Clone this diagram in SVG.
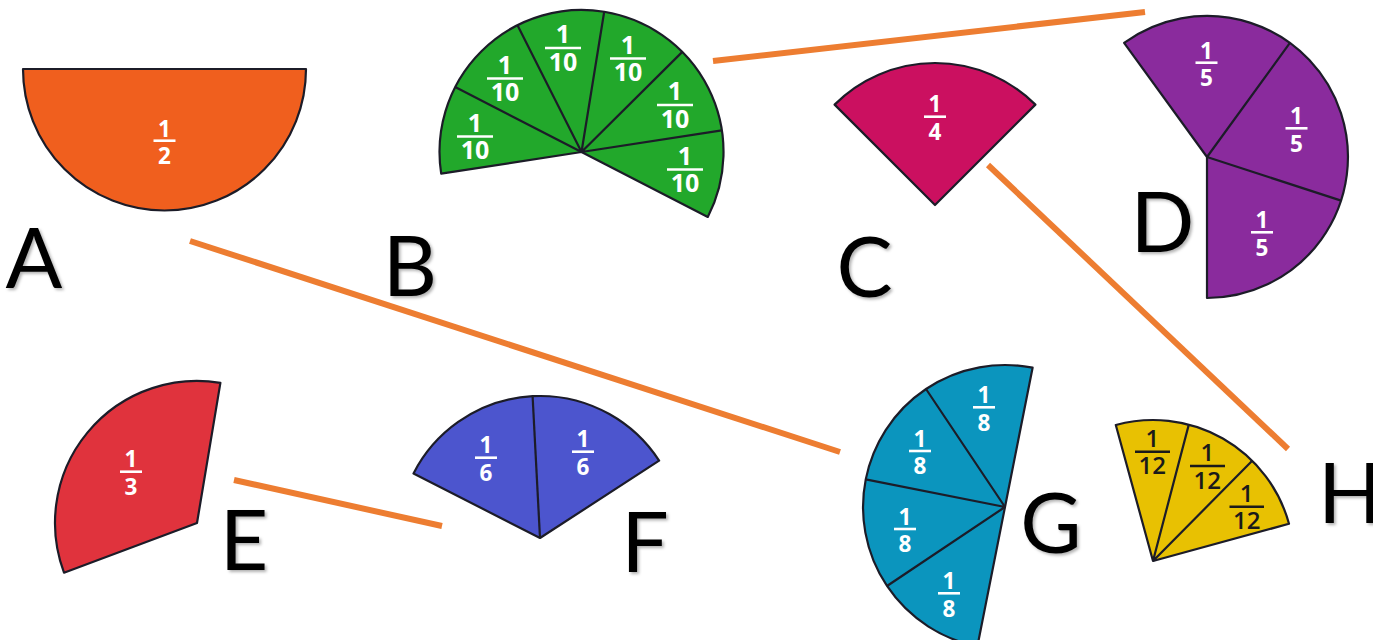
<svg xmlns="http://www.w3.org/2000/svg" width="1373" height="640" viewBox="0 0 1373 640">
<style>
.sec{stroke:#1c1c28;stroke-width:2.2;stroke-linejoin:round}
.div{stroke:#1c1c28;stroke-width:2.2;fill:none}
.fw{font-family:"Open Sans","DejaVu Sans",sans-serif;font-weight:700;font-size:22.5px;fill:#ffffff;text-anchor:middle}
.fb{font-family:"Open Sans","DejaVu Sans",sans-serif;font-weight:700;font-size:25px;fill:#ffffff;text-anchor:middle}
.fk{font-family:"Open Sans","DejaVu Sans",sans-serif;font-weight:600;font-size:24px;fill:#1a1a1a;text-anchor:middle}
.barw{stroke:#ffffff;stroke-width:2.6}
.bark{stroke:#1a1a1a;stroke-width:2.6}
.lbl{font-family:Lato,"Liberation Sans",sans-serif;font-size:84px;fill:#000000;text-anchor:middle;filter:url(#sh)}
.con{stroke:#ED7D31;stroke-width:6;fill:none}
</style>
<defs>
<filter id="sh" x="-20%" y="-20%" width="150%" height="150%">
<feDropShadow dx="2" dy="2" stdDeviation="1.5" flood-color="#000" flood-opacity="0.3"/>
</filter>
</defs>

<g id="connectors">
<line class="con" x1="713" y1="61" x2="1145" y2="12"/>
<line class="con" x1="190" y1="241" x2="840" y2="452"/>
<line class="con" x1="988" y1="165" x2="1288" y2="449"/>
<line class="con" x1="234" y1="480" x2="442" y2="526"/>
</g>

<g id="nodeA">
<path class="sec" fill="#F05F1E" d="M23,69 L306,69 A141.5,141.5 0 0 1 23,69 Z"/>
<text class="fw" x="164.5" y="136.5">1</text>
<line class="barw" x1="153.5" y1="140.7" x2="175.5" y2="140.7"/>
<text class="fw" x="164.5" y="164">2</text>
<text class="lbl" x="34" y="288">A</text>
</g>

<g id="nodeB">
<path class="sec" fill="#22A82B" d="M581.5,152 L441.2,173.7 A142,142 0 1 1 707.8,216.9 Z"/>
<path class="div" d="M581.5,152 L455.2,87.1 M581.5,152 L517.5,25.3 M581.5,152 L604.2,11.8 M581.5,152 L682.3,51.9 M581.5,152 L721.8,130.3"/>
<g>
<text class="fb" x="475" y="131.5">1</text><line class="barw" x1="457" y1="136.5" x2="493" y2="136.5"/><text class="fb" x="475" y="159">10</text>
<text class="fb" x="505" y="73.5">1</text><line class="barw" x1="487" y1="78.5" x2="523" y2="78.5"/><text class="fb" x="505" y="101">10</text>
<text class="fb" x="563" y="43">1</text><line class="barw" x1="545" y1="48" x2="581" y2="48"/><text class="fb" x="563" y="70.5">10</text>
<text class="fb" x="628" y="53.5">1</text><line class="barw" x1="610" y1="58.5" x2="646" y2="58.5"/><text class="fb" x="628" y="81">10</text>
<text class="fb" x="675" y="100">1</text><line class="barw" x1="657" y1="105" x2="693" y2="105"/><text class="fb" x="675" y="127.5">10</text>
<text class="fb" x="685" y="164.5">1</text><line class="barw" x1="667" y1="169.5" x2="703" y2="169.5"/><text class="fb" x="685" y="192">10</text>
</g>
<text class="lbl" x="410" y="296">B</text>
</g>

<g id="nodeC">
<path class="sec" fill="#CB1060" d="M935,205 L834.6,104.6 A142,142 0 0 1 1035.4,104.6 Z"/>
<text class="fw" x="935" y="112">1</text>
<line class="barw" x1="924" y1="116.7" x2="946" y2="116.7"/>
<text class="fw" x="935" y="140">4</text>
<text class="lbl" x="864.5" y="297">C</text>
</g>

<g id="nodeD">
<path class="sec" fill="#8A2B9D" d="M1207,157 L1124.1,42.9 A141,141 0 1 1 1207,298 Z"/>
<path class="div" d="M1207,157 L1289.9,42.9 M1207,157 L1341.1,200.6"/>
<text class="fw" x="1206.5" y="58.5">1</text><line class="barw" x1="1195.5" y1="62.7" x2="1217.5" y2="62.7"/><text class="fw" x="1206.5" y="86">5</text>
<text class="fw" x="1296.5" y="124">1</text><line class="barw" x1="1285.5" y1="128.3" x2="1307.5" y2="128.3"/><text class="fw" x="1296.5" y="151.5">5</text>
<text class="fw" x="1262" y="228">1</text><line class="barw" x1="1251" y1="232.3" x2="1273" y2="232.3"/><text class="fw" x="1262" y="255.5">5</text>
<text class="lbl" x="1162.5" y="252">D</text>
</g>

<g id="nodeE">
<path class="sec" fill="#E0333D" d="M197,523 L64,572.7 A142,142 0 0 1 220.4,382.9 Z"/>
<text class="fw" x="131" y="467">1</text>
<line class="barw" x1="120" y1="471.7" x2="142" y2="471.7"/>
<text class="fw" x="131" y="495">3</text>
<text class="lbl" x="244" y="570">E</text>
</g>

<g id="nodeF">
<path class="sec" fill="#4C55CE" d="M540,538 L413.5,473.5 A142,142 0 0 1 659.1,460.7 Z"/>
<path class="div" d="M540,538 L532.6,396.2"/>
<text class="fw" x="486" y="453">1</text><line class="barw" x1="475" y1="457.7" x2="497" y2="457.7"/><text class="fw" x="486" y="481">6</text>
<text class="fw" x="583" y="447">1</text><line class="barw" x1="572" y1="451.7" x2="594" y2="451.7"/><text class="fw" x="583" y="475">6</text>
<text class="lbl" x="645" y="572">F</text>
</g>

<g id="nodeG">
<path class="sec" fill="#0B95BE" d="M1005,507 L977.4,646.3 A142,142 0 0 1 1032.6,367.7 Z"/>
<path class="div" d="M1005,507 L887,586 M1005,507 L865.7,479.4 M1005,507 L926,389"/>
<text class="fw" x="984" y="403">1</text><line class="barw" x1="973" y1="407.3" x2="995" y2="407.3"/><text class="fw" x="984" y="430.5">8</text>
<text class="fw" x="920" y="446.5">1</text><line class="barw" x1="909" y1="451" x2="931" y2="451"/><text class="fw" x="920" y="474">8</text>
<text class="fw" x="905" y="524.5">1</text><line class="barw" x1="894" y1="529" x2="916" y2="529"/><text class="fw" x="905" y="552">8</text>
<text class="fw" x="949" y="589">1</text><line class="barw" x1="938" y1="593.3" x2="960" y2="593.3"/><text class="fw" x="949" y="616.5">8</text>
<text class="lbl" x="1051" y="553">G</text>
</g>

<g id="nodeH">
<path class="sec" fill="#E8C102" d="M1153,561 L1115.8,425 A141,141 0 0 1 1289,523.8 Z"/>
<path class="div" d="M1153,561 L1188.8,424.6 M1153,561 L1252.2,460.8"/>
<text class="fk" x="1152.3" y="446.5">1</text><line class="bark" x1="1135" y1="451.7" x2="1170" y2="451.7"/><text class="fk" x="1152.3" y="474">12</text>
<text class="fk" x="1207.3" y="461">1</text><line class="bark" x1="1190" y1="466" x2="1225" y2="466"/><text class="fk" x="1207.3" y="488.5">12</text>
<text class="fk" x="1246.7" y="501.5">1</text><line class="bark" x1="1229.5" y1="506.7" x2="1264" y2="506.7"/><text class="fk" x="1246.7" y="529">12</text>
<text class="lbl" x="1350" y="523">H</text>
</g>
</svg>
